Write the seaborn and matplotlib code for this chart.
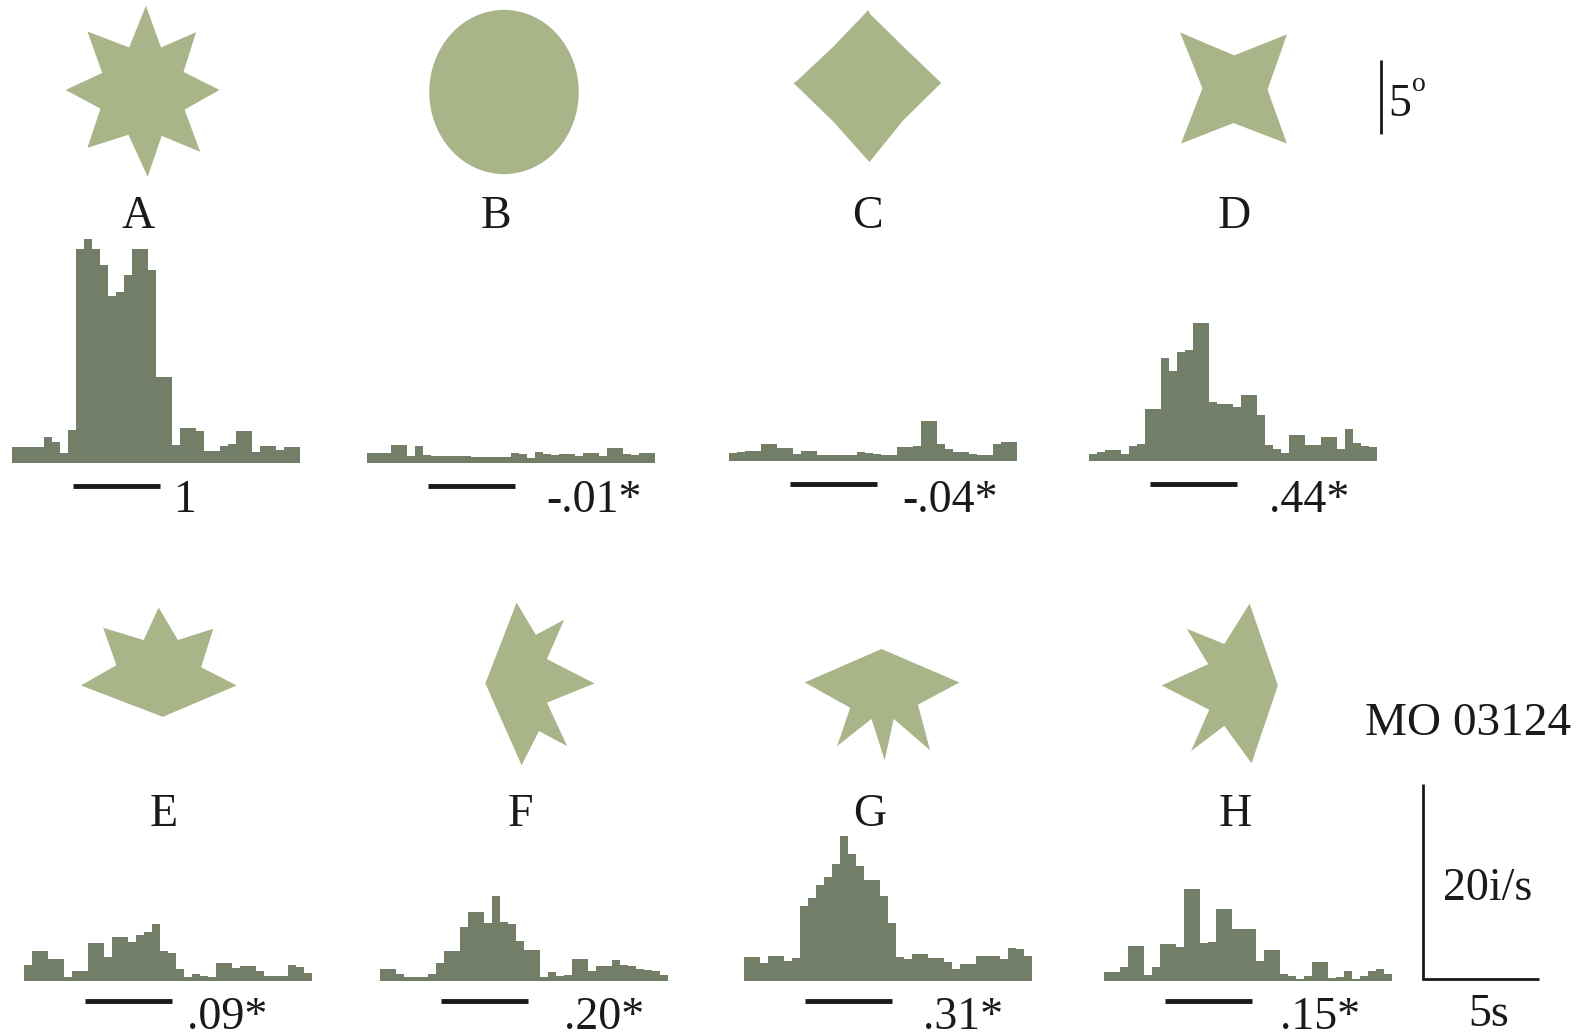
import numpy as np
import pandas as pd
import matplotlib
matplotlib.use("Agg")
import matplotlib.pyplot as plt
import seaborn as sns
from matplotlib.patches import Polygon, Ellipse

# ---------------------------------------------------------------- data
conditions = ["A", "B", "C", "D", "E", "F", "G", "H"]
similarity = ["1", "-.01*", "-.04*", ".44*", ".09*", ".20*", ".31*", ".15*"]

# firing rate per bin (impulses/s), 36 bins per condition
rate_A = [1.65, 1.65, 1.65, 1.65, 2.7, 2.2, 1.0, 3.4, 22, 23, 22, 20.3, 17.1, 17.5, 19.3, 21.9, 21.9, 19.8,
          8.8, 8.8, 1.8, 3.6, 3.6, 3.3, 1.2, 1.2, 1.7, 1.9, 3.3, 3.3, 1.1, 1.7, 1.7, 1.3, 1.6, 1.6]
rate_B = [1.0, 1.0, 1.0, 1.8, 1.8, 0.75, 1.7, 0.8, 0.75, 0.72, 0.7, 0.7, 0.68, 0.66, 0.65, 0.62, 0.6, 0.6,
          1.0, 0.9, 0.5, 1.1, 0.9, 0.85, 0.9, 0.9, 0.7, 1.0, 1.0, 0.75, 1.5, 1.5, 0.9, 0.8, 1.0, 1.0]
rate_C = [0.86, 0.9, 1.07, 1.07, 1.7, 1.7, 1.3, 1.3, 0.7, 1.0, 1.0, 0.65, 0.65, 0.65, 0.65, 0.65, 0.9, 0.8,
          0.7, 0.6, 0.6, 1.4, 1.4, 1.5, 4.1, 4.1, 1.75, 1.2, 0.9, 0.9, 0.7, 0.6, 0.6, 1.75, 1.9, 1.9]
rate_D = [0.7, 0.9, 1.15, 1.15, 0.7, 1.5, 1.7, 5.3, 5.3, 10.6, 9.2, 11.2, 11.4, 14.2, 14.2, 6.0, 5.8, 5.8,
          5.5, 6.8, 6.8, 4.7, 1.65, 1.2, 0.8, 2.7, 2.7, 1.65, 1.65, 2.5, 2.5, 1.25, 3.3, 1.8, 1.5, 1.4]
rate_E = [1.6, 3.1, 3.1, 2.3, 2.3, 0.45, 1.05, 1.05, 3.9, 3.9, 2.5, 4.5, 4.5, 4.0, 4.75, 5.0, 5.8, 3.1,
          2.9, 1.2, 0.45, 0.7, 0.5, 0.45, 1.8, 1.8, 1.3, 1.55, 1.55, 1.0, 0.5, 0.5, 0.5, 1.6, 1.4, 0.8]
rate_F = [1.2, 1.2, 0.75, 0.4, 0.4, 0.45, 0.7, 1.8, 3.1, 3.1, 5.5, 7.1, 7.1, 5.9, 8.75, 6.05, 5.8, 4.1,
          3.15, 3.15, 0.4, 0.9, 0.5, 0.6, 2.25, 2.25, 1.0, 1.5, 1.5, 2.2, 1.6, 1.55, 1.25, 1.1, 1.0, 0.65]
rate_G = [2.45, 2.45, 1.8, 2.6, 2.6, 2.1, 2.35, 7.7, 8.5, 9.8, 10.7, 12.0, 14.9, 13.0, 11.8, 10.4, 10.4, 8.7,
          6.0, 2.45, 2.3, 2.8, 2.8, 2.35, 2.35, 1.95, 1.2, 1.7, 1.7, 2.6, 2.6, 2.6, 2.3, 3.4, 3.3, 2.55]
rate_H = [0.95, 0.95, 1.4, 3.6, 3.6, 0.6, 1.45, 3.75, 3.75, 3.5, 9.4, 9.4, 3.85, 4.0, 7.35, 7.35, 5.35, 5.35,
          5.35, 2.05, 3.15, 3.15, 0.7, 0.5, 0.2, 0.5, 1.9, 1.9, 0.35, 0.4, 1.0, 0.25, 0.5, 1.0, 1.25, 0.7]
rates = [rate_A, rate_B, rate_C, rate_D, rate_E, rate_F, rate_G, rate_H]

# stimulus outlines in degrees of visual angle, relative to the shape centre
shape_A = [(0.23, 5.77), (1.25, 2.94), (3.62, 3.97), (2.77, 1.29), (5.2, 0.07), (2.84, -1.26),
           (3.9, -4.11), (1.3, -3.03), (0.35, -5.79), (-0.95, -2.96), (-3.72, -3.84), (-2.84, -1.19),
           (-5.2, 0.07), (-2.72, 1.22), (-3.72, 4.02), (-0.9, 2.94)]
shape_B = (10.1, 11.1)  # ellipse width, height
shape_C = [(0.03, 5.14), (0.15, 4.85), (2.45, 2.6), (4.95, 0.2), (4.75, 0.02), (2.35, -2.35),
           (0.1, -5.14), (-2.35, -2.4), (-5.03, 0.2), (-4.85, 0.3), (-2.4, 2.6)]
shape_D = [(-3.61, 3.82), (0.05, 2.27), (3.61, 3.69), (2.3, -0.05), (3.61, -3.69), (0.0, -2.3),
           (-3.55, -3.69), (-2.1, 0.05)]
shape_E = [(-0.09, 4.08), (1.21, 1.89), (3.6, 2.65), (2.78, 0.05), (5.18, -1.18), (0.19, -3.3),
           (-5.34, -1.18), (-2.95, 0.19), (-3.84, 2.72), (-1.11, 1.89)]
shape_F = [(-0.23, 5.5), (1.07, 3.32), (2.98, 4.34), (1.82, 1.68), (5.03, 0.04), (1.82, -1.26),
           (3.19, -4.2), (1.28, -3.18), (0.11, -5.49), (-2.34, 0.04)]
shape_G = [(-5.22, 0.51), (-0.03, 2.77), (5.23, 0.51), (2.43, -0.99), (3.25, -4.07), (0.79, -1.95),
           (0.18, -4.75), (-0.71, -1.95), (-3.03, -3.79), (-2.15, -1.2)]
shape_H = [(1.19, 5.5), (3.1, -0.03), (1.32, -5.29), (-0.52, -2.76), (-2.77, -4.47), (-1.54, -1.67),
           (-4.76, -0.03), (-1.61, 1.41), (-3.05, 3.8), (-0.52, 2.77)]
shapes = [shape_A, shape_B, shape_C, shape_D, shape_E, shape_F, shape_G, shape_H]

# ---------------------------------------------------------------- layout
W, H, DPI = 1585, 1036, 100
PX_PER_S = 23.2      # horizontal time scale
PX_PER_RATE = 9.75   # vertical rate scale (px per impulse/s)
PX_PER_DEG = 14.8    # stimulus size scale
N_BINS = 36
BIN_S = 0.345
STIM_ON, STIM_OFF = 2.65, 6.4
Y_MAX = 25

HIST_COLOR = "#737e69"
SHAPE_COLOR = "#a9b588"
INK = "#1a1a1a"
FONT = ["Liberation Serif", "DejaVu Serif"]

hist_origin = [(12, 463), (367, 463), (729, 461), (1089, 461),
               (24, 981), (380, 981), (744, 981), (1104, 981)]
shape_center = [(142.5, 91), (504, 92), (868, 86), (1233.5, 89),
                (160, 668), (520, 684), (882, 690), (1232, 685)]
letter_pos = [(138.5, 227.5), (496.4, 227.5), (867.4, 227.5), (1234.4, 227.5),
              (163.8, 826), (520.7, 826), (869.5, 826), (1235.4, 826)]
value_pos = [(185, 512.5), (594.5, 512.5), (950, 512.5), (1309, 512.5),
             (227.5, 1029), (604.6, 1029), (963.5, 1029), (1320, 1029)]

sns.set_theme(style="white")
plt.rcParams["font.family"] = FONT

fig = plt.figure(figsize=(W / DPI, H / DPI), dpi=DPI)
fig.patch.set_facecolor("white")


def px_axes(x0, y_base, w, h):
    """Axes whose data origin sits at pixel (x0, y_base), measured from the top-left."""
    ax = fig.add_axes([x0 / W, 1 - y_base / H, w / W, h / H])
    ax.set_axis_off()
    return ax


def fig_text(x, y, s, size=33, **kw):
    fig.text(x / W, 1 - y / H, s, ha="center", va="baseline", fontsize=size,
             color=INK, family=FONT, **kw)


t_end = N_BINS * BIN_S
centers = (np.arange(N_BINS) + 0.5) * BIN_S

for i, cond in enumerate(conditions):
    # PSTH
    x0, base = hist_origin[i]
    ax = px_axes(x0, base, t_end * PX_PER_S, Y_MAX * PX_PER_RATE)
    df = pd.DataFrame({"time": centers, "rate": rates[i]})
    sns.histplot(data=df, x="time", weights="rate", bins=N_BINS, binrange=(0, t_end),
                 element="step", fill=True, color=HIST_COLOR, alpha=1, linewidth=0, ax=ax)
    ax.set_xlim(0, t_end)
    ax.set_ylim(0, Y_MAX)
    ax.set_axis_off()
    stim_y = -2.35 if i < 4 else -2.05
    ax.plot([STIM_ON, STIM_OFF], [stim_y, stim_y], color=INK, lw=3.5,
            solid_capstyle="butt", clip_on=False)

    # stimulus shape
    cx, cy = shape_center[i]
    half = 6.5
    sax = px_axes(cx - half * PX_PER_DEG, cy + half * PX_PER_DEG,
                  2 * half * PX_PER_DEG, 2 * half * PX_PER_DEG)
    sax.set_xlim(-half, half)
    sax.set_ylim(-half, half)
    if cond == "B":
        sax.add_patch(Ellipse((0, 0), shape_B[0], shape_B[1], facecolor=SHAPE_COLOR,
                              edgecolor="none"))
    else:
        sax.add_patch(Polygon(np.array(shapes[i]), closed=True, facecolor=SHAPE_COLOR,
                              edgecolor="none"))

    fig_text(*letter_pos[i], cond)
    fig_text(*value_pos[i], similarity[i])

# 5 degree size bar
dax = px_axes(1381, 133.5, 20, 5 * PX_PER_DEG)
dax.set_xlim(0, 1)
dax.set_ylim(0, 5)
dax.plot([0, 0], [0, 5], color=INK, lw=2.0, clip_on=False, solid_capstyle="butt")
fig_text(1400, 116.5, "5")
fig_text(1419, 91, "o", size=20)

# rate / time calibration bars
cax = px_axes(1422.5, 979, 5 * PX_PER_S, 20 * PX_PER_RATE)
cax.set_xlim(0, 5)
cax.set_ylim(0, 20)
cax.plot([0, 0, 5], [20, 0, 0], color=INK, lw=2.0, clip_on=False,
         solid_joinstyle="miter", solid_capstyle="butt")
fig_text(1488, 900, "20i/s")
fig_text(1489, 1026, "5s")

fig_text(1468, 735, "MO 03124", size=34)

fig.savefig("out.png", dpi=DPI, facecolor="white")
